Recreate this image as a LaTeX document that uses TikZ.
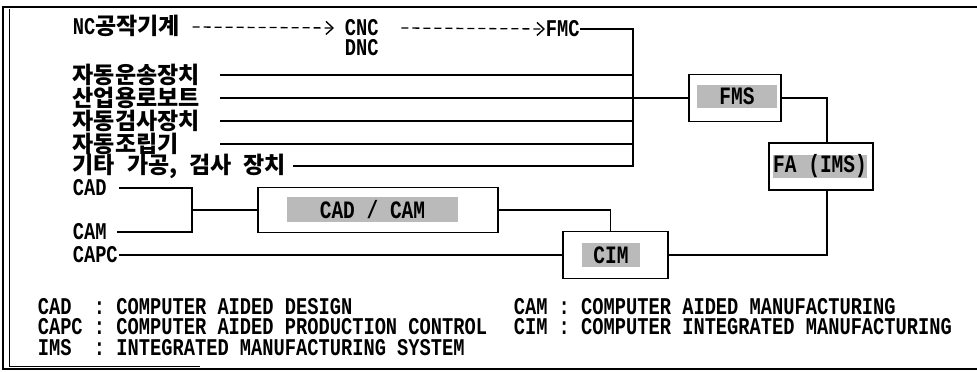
\documentclass[tikz,border=0pt]{standalone}
\usepackage{fontspec}
\setmainfont{Liberation Mono}[FakeStretch=0.78]
\newfontfamily\kr{Noto Sans CJK KR}
\usetikzlibrary{arrows.meta,calc}
\begin{document}
\begin{tikzpicture}[x=1pt,y=-1pt,line width=1.6pt,
  lat/.style={font=\bfseries\fontsize{24}{24}\selectfont,inner sep=0pt,anchor=west,text height=14pt,text depth=0pt},
  kor/.style={font=\kr\bfseries\fontsize{23}{23}\selectfont,inner sep=0pt,anchor=west},
  boxframe/.style={draw,fill=white,inner sep=0pt},
  shadebox/.style={fill=black!27,inner sep=0pt,font=\bfseries\fontsize{25}{25}\selectfont},
  dasharr/.style={line width=1.3pt,dash pattern=on 7pt off 4pt,-{Straight Barb[length=7pt,width=13pt,line width=1.4pt]}},
  legend/.style={font=\bfseries\fontsize{24}{24}\selectfont,inner sep=0pt,anchor=west,text height=14pt,text depth=0pt}]
\useasboundingbox (0,0) rectangle (977,372);
% frame
\draw[line width=2.6pt] (2,7) -- (977,7);
\draw[line width=1.4pt] (3,7) -- (3,369) -- (977,369);
\draw[line width=1pt] (9,9) -- (9,366) -- (200,366);
% top row
\node[lat] (nc) at (72,27) {NC{\kr\fontsize{23}{23}\selectfont 공작기계}};
\node[lat] (cnc) at (344,28) {CNC};
\node[lat] (dnc) at (344,48) {DNC};
\node[lat] (fmc) at (545,29) {FMC};
\draw[dasharr] ([xshift=12]nc.east) -- ([xshift=-10]cnc.west);
\draw[dasharr] ([xshift=22]cnc.east) -- (fmc.west);
% korean labels
\node[kor] (l1) at (72,75) {자동운송장치};
\node[kor] (l2) at (72,98) {산업용로보트};
\node[kor] (l3) at (72,121) {자동검사장치};
\node[kor] (l4) at (72,144) {자동조립기};
\node[kor] (l5) at (72,166) {기타\hspace{12pt}가공,\hspace{12pt}검사\hspace{12pt}장치};
\coordinate (ls) at (220,0);
\coordinate (bus) at (633,0);
% boxes
\node[boxframe,minimum width=92,minimum height=47] (fms) at (735,98) {};
\node[shadebox,minimum width=80,minimum height=23] (fmst) at (737,96.5) {FMS};
\node[boxframe,minimum width=104,minimum height=47] (fa) at (821,166.5) {};
\node[shadebox,minimum width=90,minimum height=23] (fat) at (820,166.5) {FA (IMS)};
\node[boxframe,minimum width=240,minimum height=45] (cadcam) at (378,210) {};
\node[shadebox,minimum width=171,minimum height=25] (cadcamt) at (372.5,209.5) {CAD / CAM};
\node[boxframe,minimum width=105,minimum height=47] (cim) at (615.5,255) {};
\node[shadebox,minimum width=58,minimum height=24] (cimt) at (611,255) {CIM};
% bus lines
\draw (l1.east -| ls) -- (l1.east -| bus);
\draw (l2.east -| ls) -- (fms.west);
\draw (l3.east -| ls) -- (l3.east -| bus);
\draw (l4.east -| ls) -- (l4.east -| bus);
\draw (fmc.east) -| (l5.east -| bus) -- ([xshift=6]l5.east);
% lower left
\node[lat] (cad) at (72,188) {CAD};
\node[lat] (cam) at (72,232) {CAM};
\node[lat] (capc) at (72,255) {CAPC};
\coordinate (j) at (192,0);
\draw ([xshift=12]cad.east) -| (cam.east -| j) -- ([xshift=10]cam.east);
\draw (cadcam.west -| j) -- (cadcam.west);
\draw (capc.east) -- (cim.west);
\draw (cadcam.east) -| ([xshift=-5]cim.north);
\draw (fms.east) -| ([xshift=6]fa.north);
\draw ([xshift=6]fa.south) |- (cim.east);
% legend
\node[legend] (g1) at (37,307) {CAD~~:~COMPUTER AIDED DESIGN};
\node[legend] (g2) at (37,327) {CAPC~:~COMPUTER AIDED PRODUCTION CONTROL};
\node[legend] (g3) at (37,348) {IMS~~:~INTEGRATED MANUFACTURING SYSTEM};
\node[legend] (g4) at (513,307) {CAM~:~COMPUTER AIDED MANUFACTURING};
\node[legend] (g5) at (513,327) {CIM~:~COMPUTER INTEGRATED MANUFACTURING};
\end{tikzpicture}
\end{document}
